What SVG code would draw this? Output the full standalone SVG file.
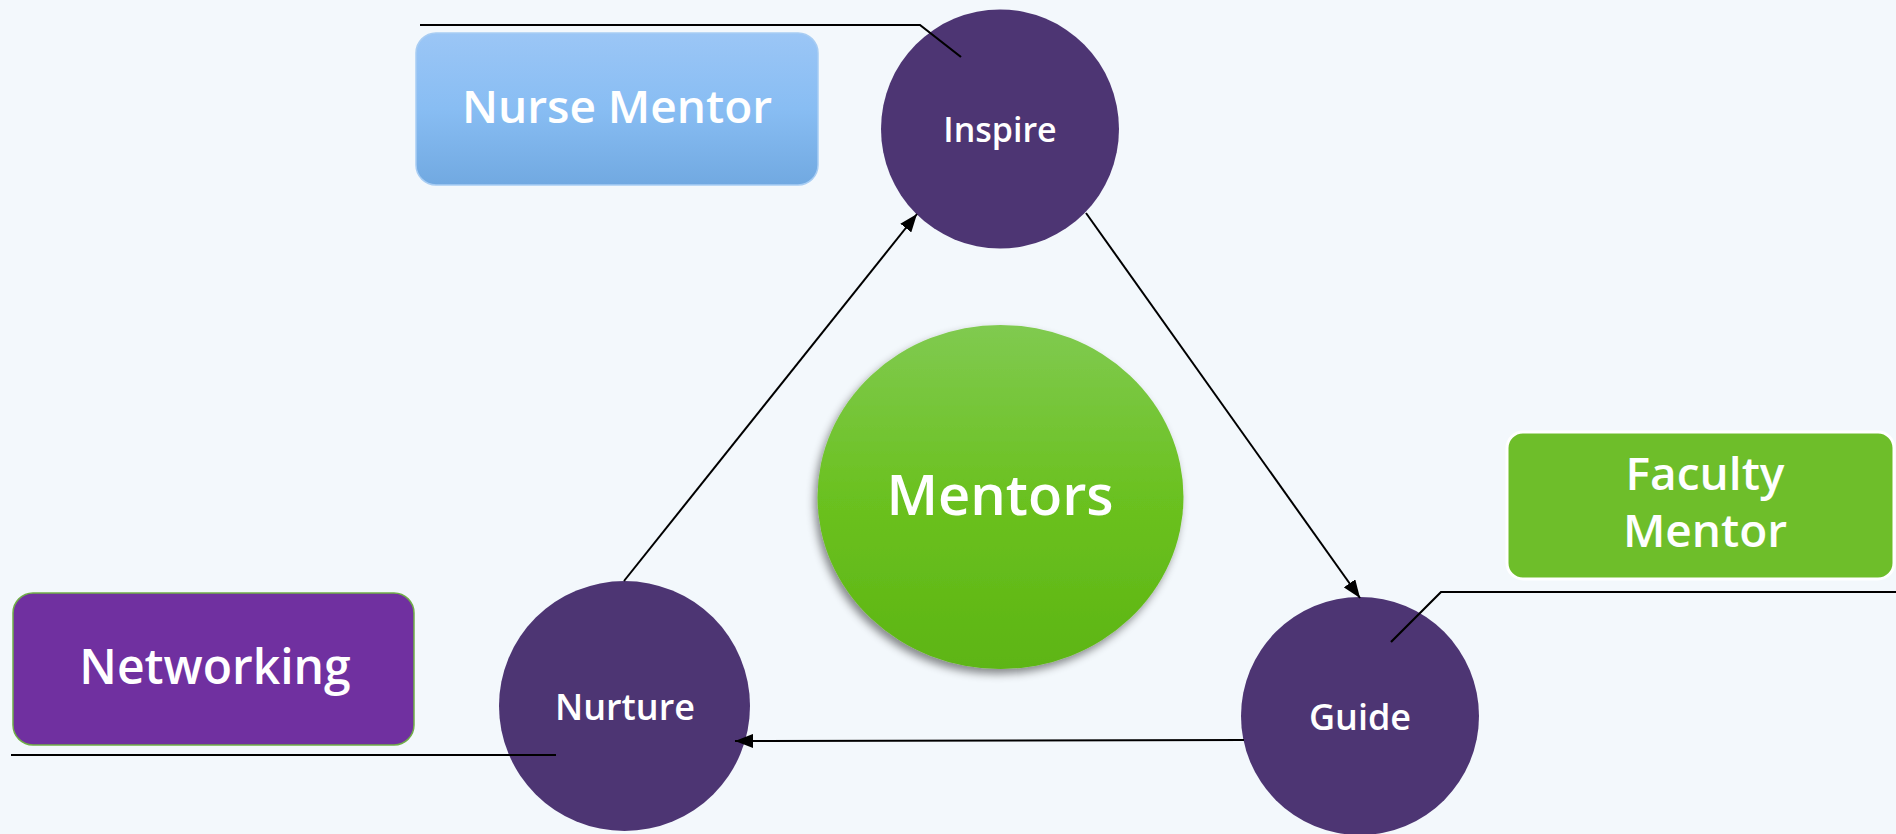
<svg xmlns="http://www.w3.org/2000/svg" width="1896" height="834" viewBox="0 0 1896 834">
<style>
.lbl{font-family:"Open Sans","Liberation Sans",sans-serif;font-weight:600;fill:#ffffff;text-anchor:middle}
.conn{stroke:#000000;stroke-width:2;fill:none}
.callout{stroke:#000000;stroke-width:2.2;fill:none}
.purple{fill:#4D3573}
</style>
<defs>
<linearGradient id="gBlue" x1="0" y1="0" x2="0" y2="1">
<stop offset="0" stop-color="#9BC6F6"/>
<stop offset="0.5" stop-color="#88BDF3"/>
<stop offset="1" stop-color="#71A9E1"/>
</linearGradient>
<linearGradient id="gGreen" x1="0" y1="0" x2="0" y2="1">
<stop offset="0" stop-color="#80CA50"/>
<stop offset="0.5" stop-color="#6BC120"/>
<stop offset="1" stop-color="#5DB513"/>
</linearGradient>
<filter id="shadow" x="-20%" y="-20%" width="140%" height="140%">
<feDropShadow dx="-3" dy="5" stdDeviation="4" flood-color="#000" flood-opacity="0.45"/>
</filter>
<marker id="arrow" viewBox="0 0 18 14" refX="18" refY="7" markerWidth="18" markerHeight="14" markerUnits="userSpaceOnUse" orient="auto">
<path d="M0,0 L18,7 L0,14 Z" fill="#000"/>
</marker>
</defs>
<rect x="0" y="0" width="1896" height="834" fill="#F3F8FC"/>

<g id="nurse-mentor">
<rect x="416" y="33" width="402" height="152" rx="20" fill="url(#gBlue)" stroke="#A8CDF3" stroke-width="1.5"/>
<text class="lbl" x="617" y="123" font-size="46">Nurse Mentor</text>
</g>

<g id="networking">
<rect x="13" y="593" width="401" height="152" rx="20" fill="#7030A0" stroke="#70AD47" stroke-width="1.5"/>
<text class="lbl" x="215" y="684" font-size="48">Networking</text>
</g>

<g id="faculty-mentor">
<rect x="1507" y="432" width="387" height="147" rx="16" fill="#6EBE2A" stroke="#FFFFFF" stroke-width="3"/>
<text class="lbl" x="1705" y="490" font-size="46">Faculty</text>
<text class="lbl" x="1705" y="547" font-size="46">Mentor</text>
</g>

<g id="mentors">
<ellipse cx="1000.5" cy="497" rx="183" ry="172" fill="url(#gGreen)" filter="url(#shadow)"/>
<text class="lbl" x="1000" y="515" font-size="56">Mentors</text>
</g>

<g id="inspire">
<ellipse class="purple" cx="1000" cy="129" rx="119" ry="119.5"/>
<text class="lbl" x="1000" y="142" font-size="34">Inspire</text>
</g>

<g id="nurture">
<ellipse class="purple" cx="624.5" cy="706" rx="125.5" ry="125"/>
<text class="lbl" x="625" y="720" font-size="36">Nurture</text>
</g>

<g id="guide">
<ellipse class="purple" cx="1360" cy="716" rx="119" ry="119"/>
<text class="lbl" x="1360" y="730" font-size="36">Guide</text>
</g>

<g id="connectors">
<line class="conn" x1="624" y1="581" x2="917" y2="214" marker-end="url(#arrow)"/>
<line class="conn" x1="1086" y1="213" x2="1360" y2="598" marker-end="url(#arrow)"/>
<line class="conn" x1="1244" y1="740" x2="735" y2="741" marker-end="url(#arrow)"/>
<polyline class="callout" points="420,25 920,25 961,57"/>
<line class="callout" x1="11" y1="755" x2="556" y2="755"/>
<polyline class="callout" points="1391,642 1441,592 1896,592"/>
</g>
</svg>
